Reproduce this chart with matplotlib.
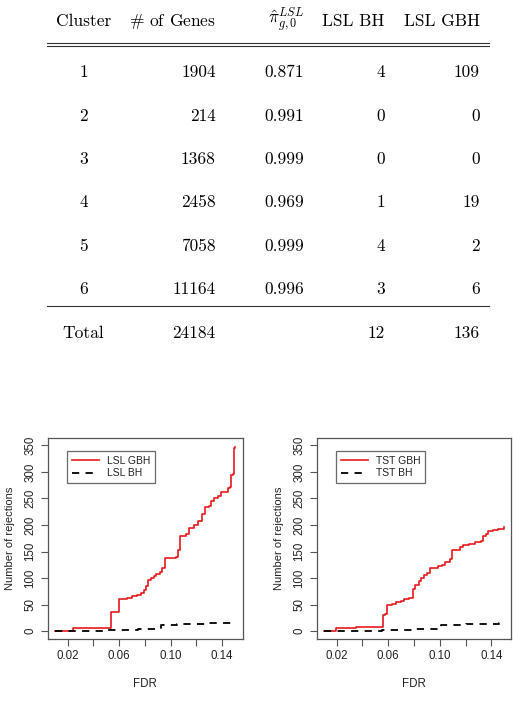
import matplotlib
matplotlib.use("Agg")
import matplotlib.pyplot as plt
from matplotlib.lines import Line2D
import numpy as np

# ---------------- data ----------------
clusters = ["1", "2", "3", "4", "5", "6"]
n_genes = ["1904", "214", "1368", "2458", "7058", "11164"]
pi0_hat = ["0.871", "0.991", "0.999", "0.969", "0.999", "0.996"]
lsl_bh_counts = ["4", "0", "0", "1", "4", "3"]
lsl_gbh_counts = ["109", "0", "0", "19", "2", "6"]
total_label = "Total"
total_genes = "24184"
total_bh = "12"
total_gbh = "136"
headers = ["Cluster", r"$\#$ of Genes", r"$\hat{\pi}_{g,0}^{LSL}$", "LSL BH", "LSL GBH"]

# left panel (LSL)
lsl_gbh_fdr = [0.010, 0.0244, 0.0541, 0.0598, 0.0640, 0.0660, 0.0700, 0.0740, 0.0774, 0.0790,
               0.0808, 0.0822, 0.0850, 0.0868, 0.0890, 0.0915, 0.0930, 0.0960, 0.1046, 0.1060,
               0.1070, 0.1123, 0.1140, 0.1180, 0.1214, 0.1245, 0.1265, 0.1300, 0.1317, 0.1340,
               0.1369, 0.1395, 0.1430, 0.1446, 0.1465, 0.1472, 0.1485, 0.1490, 0.1503]
lsl_gbh_rej = [1, 5, 36, 60, 61, 63, 66, 68, 72, 78,
               85, 97, 100, 103, 108, 112, 118, 137, 139, 153,
               180, 183, 195, 200, 207, 220, 233, 236, 245, 250,
               255, 262, 263, 270, 272, 295, 297, 345, 347]
lsl_bh_fdr = [0.010, 0.028, 0.050, 0.0748, 0.0929, 0.1050, 0.1150, 0.1291, 0.1503]
lsl_bh_rej = [0, 1, 2, 4, 12, 13, 14, 16, 16]

# right panel (TST)
tst_gbh_fdr = [0.010, 0.0198, 0.0350, 0.0563, 0.0575, 0.0593, 0.0630, 0.0664, 0.0700, 0.0725,
               0.0764, 0.0795, 0.0811, 0.0835, 0.0855, 0.0880, 0.0899, 0.0925, 0.0989, 0.1020,
               0.1040, 0.1083, 0.1096, 0.1140, 0.1160, 0.1183, 0.1230, 0.1270, 0.1317, 0.1338,
               0.1355, 0.1374, 0.1410, 0.1450, 0.1500]
tst_gbh_rej = [1, 5, 7, 30, 33, 50, 51, 54, 57, 60,
               62, 80, 87, 95, 100, 105, 110, 118, 123, 124,
               130, 136, 152, 153, 158, 162, 165, 168, 170, 180,
               183, 188, 190, 193, 196]
tst_bh_fdr = [0.010, 0.028, 0.055, 0.080, 0.1007, 0.110, 0.120, 0.135, 0.146, 0.150]
tst_bh_rej = [0, 1, 2, 4, 11, 12, 13, 14, 16, 16]

x_ticks = [0.02, 0.04, 0.06, 0.08, 0.10, 0.12, 0.14]
x_tick_labels = ["0.02", "", "0.06", "", "0.10", "", "0.14"]
y_ticks = [0, 50, 100, 150, 200, 250, 300, 350]

# ---------------- figure ----------------
W, H = 513, 701
fig = plt.figure(figsize=(W / 100, H / 100), dpi=100)


def fx(x):
    return x / W


def fy(y):
    return 1 - y / H


serif = dict(family="cmr10", fontsize=12.5)
plt.rcParams["mathtext.fontset"] = "cm"

# headers
fig.text(fx(83.5), fy(26), headers[0], ha="center", va="baseline", **serif)
fig.text(fx(215.7), fy(26), headers[1], ha="right", va="baseline", **serif)
fig.text(fx(304), fy(23), headers[2], ha="right", va="baseline", fontsize=12.5)
fig.text(fx(385), fy(26), headers[3], ha="right", va="baseline", **serif)
fig.text(fx(480), fy(26), headers[4], ha="right", va="baseline", **serif)

for yy in (42.7, 45.5):
    fig.add_artist(Line2D([fx(47), fx(489)], [fy(yy), fy(yy)], color="#333333", lw=0.8))
fig.add_artist(Line2D([fx(47), fx(489)], [fy(306), fy(306)], color="#333333", lw=0.8))

row_base = [77.3, 120.7, 164.0, 207.3, 250.7, 294.0]
for i in range(len(clusters)):
    b = fy(row_base[i])
    fig.text(fx(83.5), b, clusters[i], ha="center", va="baseline", **serif)
    fig.text(fx(215.7), b, n_genes[i], ha="right", va="baseline", **serif)
    fig.text(fx(304), b, pi0_hat[i], ha="right", va="baseline", **serif)
    fig.text(fx(385), b, lsl_bh_counts[i], ha="right", va="baseline", **serif)
    fig.text(fx(480), b, lsl_gbh_counts[i], ha="right", va="baseline", **serif)

tb = fy(337.7)
fig.text(fx(83.5), tb, total_label, ha="center", va="baseline", **serif)
fig.text(fx(215.7), tb, total_genes, ha="right", va="baseline", **serif)
fig.text(fx(385), tb, total_bh, ha="right", va="baseline", **serif)
fig.text(fx(480), tb, total_gbh, ha="right", va="baseline", **serif)

# ---------------- plots ----------------
sans = "Liberation Sans"
frame_col = "#555555"


def panel(left_px, gbh_x, gbh_y, bh_x, bh_y, labels):
    ax = fig.add_axes([fx(left_px), fy(638.5), 195 / W, 200.5 / H])
    ax.plot(gbh_x, gbh_y, drawstyle="steps-post", color="#e8191c", lw=1.2, label=labels[0])
    ax.plot(bh_x, bh_y, drawstyle="steps-post", color="black", lw=1.3,
            dashes=(4, 3.5), label=labels[1])
    allx = np.concatenate([gbh_x, bh_x])
    lo, hi = allx.min(), allx.max()
    pad = 0.04 * (hi - lo)
    ax.set_xlim(lo - pad, hi + pad)
    ax.set_ylim(-14, 364)
    ax.set_xticks(x_ticks)
    ax.set_xticklabels(x_tick_labels, fontfamily=sans, fontsize=8.3)
    ax.set_yticks(y_ticks)
    ax.set_yticklabels([str(v) for v in y_ticks], fontfamily=sans, fontsize=8.3,
                       rotation=90, va="center")
    ax.tick_params(length=5, width=0.8, color=frame_col, labelcolor="#222222", pad=3)
    for s in ax.spines.values():
        s.set_color(frame_col)
        s.set_linewidth(0.9)
    ax.set_xlabel("FDR", fontfamily=sans, fontsize=8.3, color="#222222", labelpad=12)
    ax.set_ylabel("Number of rejections", fontfamily=sans, fontsize=8.0,
                  color="#222222", labelpad=7)
    leg = ax.legend(loc="upper left", bbox_to_anchor=(0.10, 0.935), frameon=True,
                    fancybox=False, edgecolor="#444444", borderpad=0.45,
                    handlelength=2.6, handletextpad=0.8, labelspacing=0.25,
                    prop=dict(family=sans, size=7.5), borderaxespad=0)
    leg.get_frame().set_linewidth(0.9)
    for t in leg.get_texts():
        t.set_color("#222222")
    return ax


panel(47.5, np.array(lsl_gbh_fdr), np.array(lsl_gbh_rej),
      np.array(lsl_bh_fdr), np.array(lsl_bh_rej), ["LSL GBH", "LSL BH"])
panel(316.5, np.array(tst_gbh_fdr), np.array(tst_gbh_rej),
      np.array(tst_bh_fdr), np.array(tst_bh_rej), ["TST GBH", "TST BH"])

fig.savefig("out.png", dpi=100)
